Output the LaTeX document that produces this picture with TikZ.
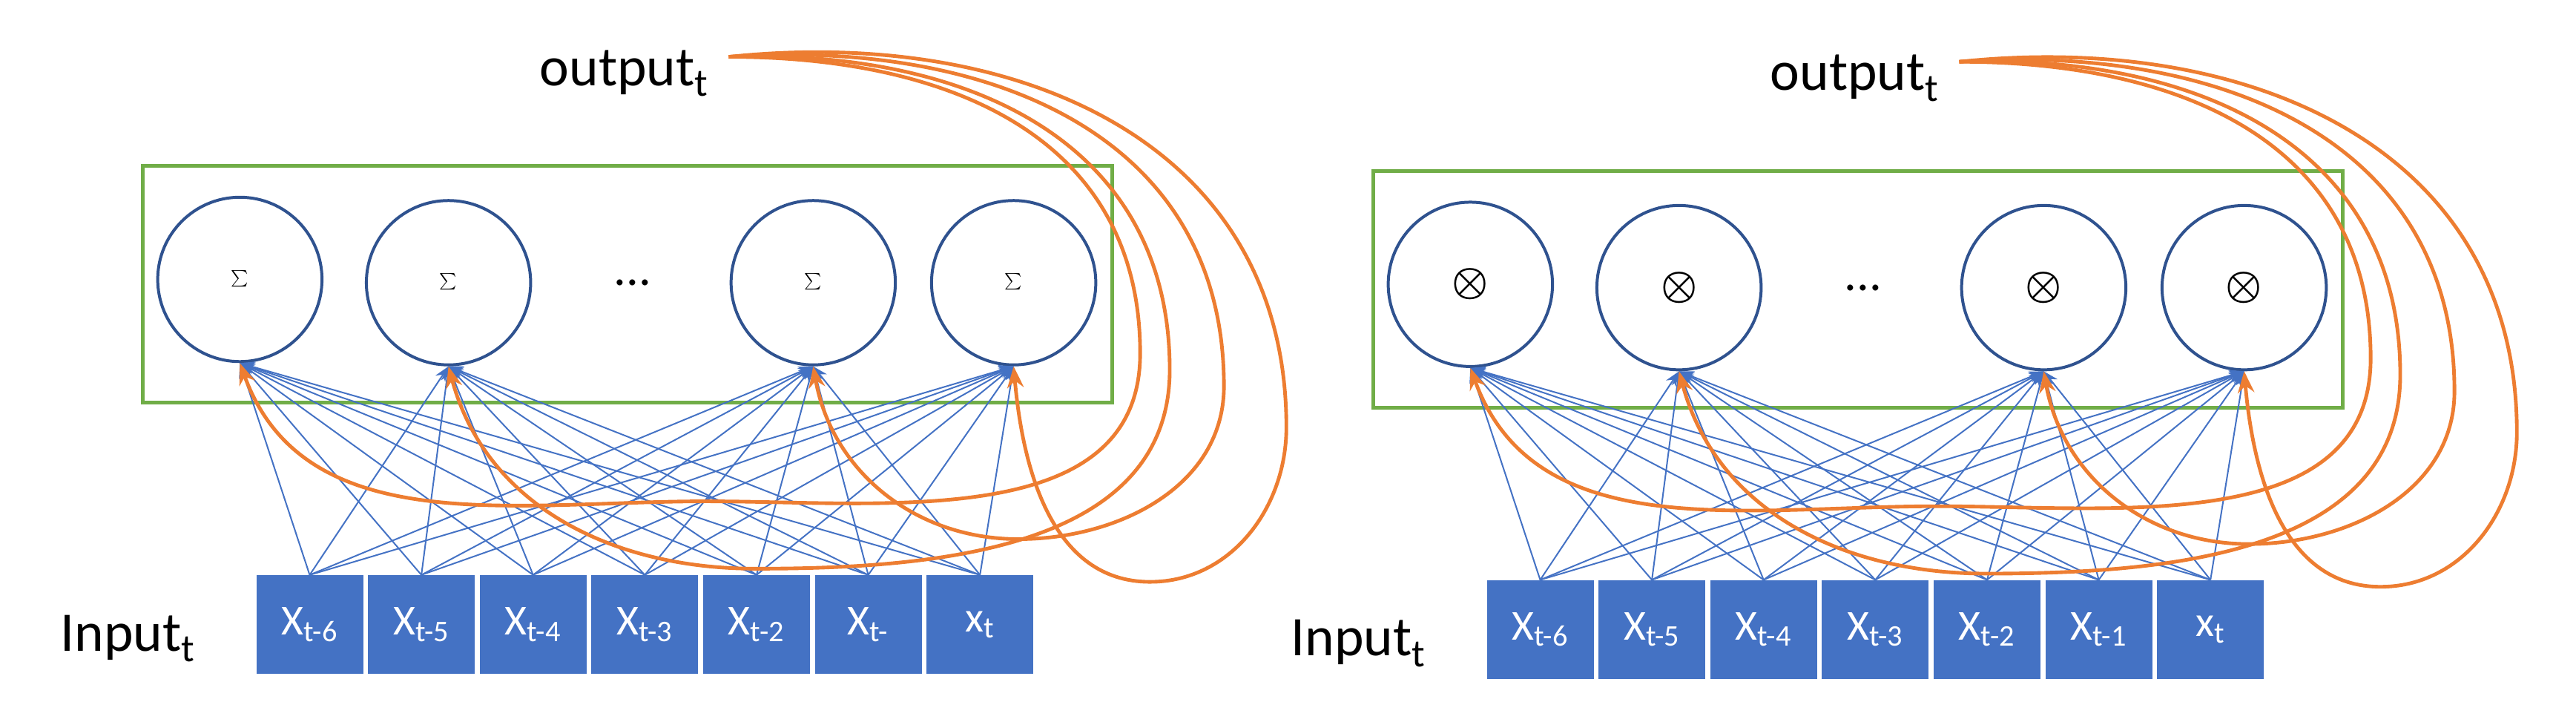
\documentclass[tikz,border=0pt]{standalone}
\usepackage{fontspec}
\setmainfont{Carlito}
\usetikzlibrary{arrows.meta,calc}
\definecolor{cblue}{RGB}{68,114,196}
\definecolor{cdark}{RGB}{47,82,143}
\definecolor{cgreen}{RGB}{112,173,71}
\definecolor{corange}{RGB}{237,125,49}
\tikzset{
 unit/.style={circle,draw=cdark,line width=1.8pt,minimum size=100pt,inner sep=0pt,fill=white},
 inbox/.style={fill=cblue,minimum width=65pt,minimum height=60pt,inner sep=0pt,text=white,font=\fontsize{26}{26}\selectfont},
 link/.style={cblue,line width=0.9pt,-{Stealth[length=9pt,width=7pt]}},
 fb/.style={corange,line width=2.2pt,-{Stealth[length=13pt,width=10pt]}},
 frame/.style={draw=cgreen,line width=2pt},
 lbl/.style={font=\fontsize{34}{34}\selectfont,inner sep=0pt}
}
\newcommand{\mysymsum}{{\fontsize{44}{44}\selectfont$\textstyle\sum$}}
\newcommand{\mysymotimes}{{\fontsize{44}{44}\selectfont\mathversion{bold}$\otimes$}}
\newcommand{\mylastL}{X\textsubscript{t-}}
\newcommand{\mylastR}{X\textsubscript{t-1}}
\newcommand{\mypanel}[5]{%
\begin{scope}[shift={(#1,#2)}]
 \node[lbl,anchor=base] (#5out) at (380,52) {output\textsubscript{t}};
 \node[lbl,anchor=base] (#5in) at (78,396) {Input\textsubscript{t}};
 \node[frame,minimum width=590pt,minimum height=144pt,inner sep=0pt] (#5fr) at (382,173) {};
 \node[unit] (#5c1) at (146,170) {#3};
 \node[unit] (#5c2) at (273,172) {#3};
 \node[unit] (#5c3) at (495,172) {#3};
 \node[unit] (#5c4) at (617,172) {#3};
 \node[font=\fontsize{30}{30}\selectfont] (#5dots) at (385,172) {...};
 \node[inbox] (#5b1) at (188.5,380) {X\textsubscript{t-6}};
 \node[inbox] (#5b2) at (256.5,380) {X\textsubscript{t-5}};
 \node[inbox] (#5b3) at (324.5,380) {X\textsubscript{t-4}};
 \node[inbox] (#5b4) at (392.5,380) {X\textsubscript{t-3}};
 \node[inbox] (#5b5) at (460.5,380) {X\textsubscript{t-2}};
 \node[inbox] (#5b6) at (528.5,380) {#4};
 \node[inbox] (#5b7) at (596.5,380) {x\textsubscript{t}};
 \foreach \k in {1,...,7}
  \foreach \j in {1,...,4}
   \draw[link] (#5b\k.north) -- (#5c\j.south);
 \coordinate (#5o) at ($(#5out.east)+(12,-10)$);
 \draw[fb] (#5o) to[out=0,in=90,looseness=1.1] (694,215) to[out=-90,in=0] (430,305) to[out=180,in=-70] (#5c1.south);
 \draw[fb] (#5o) to[out=2,in=90,looseness=1.1] (712,225) to[out=-90,in=0] (460,346) to[out=180,in=-75] (#5c2.south);
 \draw[fb] (#5o) to[out=4,in=90,looseness=1.1] (745,235) to[out=-90,in=0] (620,328) to[out=180,in=-80] (#5c3.south);
 \draw[fb] (#5o) to[out=6,in=90,looseness=1.1] (783,260) to[out=-90,in=0] (700,354) to[out=180,in=-85] (#5c4.south);
\end{scope}}
\begin{document}
\begin{tikzpicture}[x=1pt,y=-1pt]
\useasboundingbox (0,0) rectangle (1568,441);
\mypanel{0}{0}{\mysymsum}{\mylastL}{L}
\mypanel{749}{3}{\mysymotimes}{\mylastR}{R}
\end{tikzpicture}
\end{document}
